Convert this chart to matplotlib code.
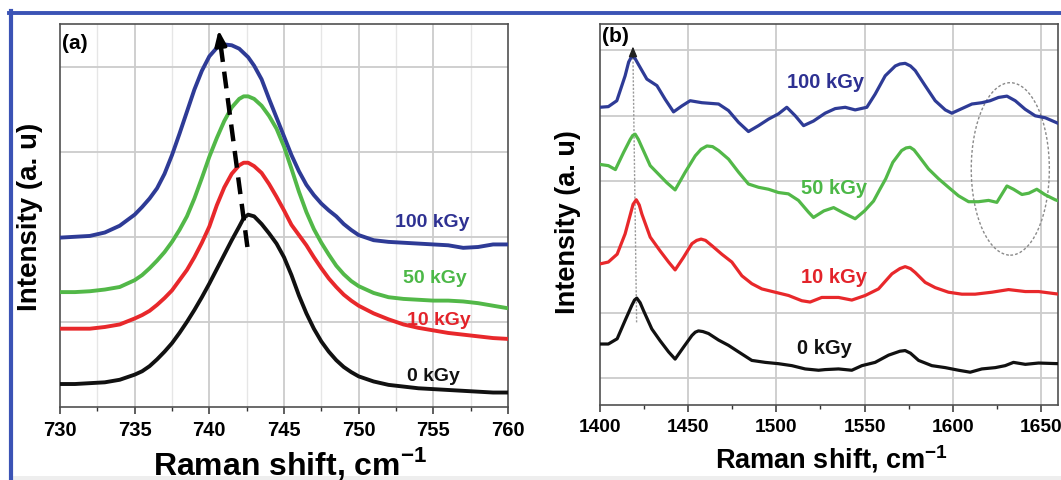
import matplotlib
matplotlib.use("Agg")
import matplotlib.pyplot as plt
from matplotlib.patches import Ellipse, Rectangle
from matplotlib.lines import Line2D

plt.rcParams['font.family'] = ['Liberation Sans', 'DejaVu Sans']
plt.rcParams['font.weight'] = 'bold'
plt.rcParams['mathtext.fontset'] = 'custom'
plt.rcParams['mathtext.rm'] = 'Liberation Sans'
plt.rcParams['mathtext.bf'] = 'Liberation Sans:bold'

# ---------------- data: panel (a) ----------------
a_x = [730, 731, 732, 733, 734, 735, 735.5, 736, 736.5, 737, 737.5, 738, 738.5, 739, 739.5,
       740, 740.5, 741, 741.5, 742, 742.3, 742.6, 743, 743.5, 744, 744.5, 745, 745.5, 746,
       746.5, 747, 747.5, 748, 748.5, 749, 749.5, 750, 751, 752, 753, 754, 755, 756, 757,
       758, 759, 760]
a_y_0 = [0.27, 0.27, 0.28, 0.29, 0.32, 0.38, 0.42, 0.48, 0.56, 0.65, 0.75, 0.87, 1.00, 1.14, 1.29,
         1.45, 1.62, 1.79, 1.96, 2.12, 2.22, 2.26, 2.24, 2.15, 2.04, 1.92, 1.76, 1.55, 1.31,
         1.10, 0.92, 0.77, 0.65, 0.55, 0.47, 0.41, 0.36, 0.30, 0.26, 0.24, 0.22, 0.21, 0.20, 0.19,
         0.18, 0.17, 0.17]
a_y_10 = [0.92, 0.92, 0.92, 0.94, 0.97, 1.04, 1.08, 1.13, 1.20, 1.28, 1.37, 1.49, 1.61, 1.76, 1.93,
          2.12, 2.37, 2.58, 2.74, 2.84, 2.87, 2.87, 2.83, 2.75, 2.62, 2.47, 2.31, 2.14, 2.02,
          1.90, 1.76, 1.63, 1.51, 1.41, 1.32, 1.25, 1.19, 1.10, 1.03, 0.97, 0.93, 0.90, 0.87, 0.85,
          0.83, 0.81, 0.80]
a_y_50 = [1.35, 1.35, 1.36, 1.38, 1.41, 1.49, 1.55, 1.63, 1.72, 1.82, 1.94, 2.08, 2.24, 2.45, 2.69,
          2.94, 3.16, 3.36, 3.52, 3.62, 3.65, 3.65, 3.62, 3.54, 3.42, 3.27, 3.06, 2.80, 2.53,
          2.29, 2.09, 1.93, 1.79, 1.66, 1.56, 1.48, 1.42, 1.34, 1.29, 1.27, 1.26, 1.25, 1.25, 1.24,
          1.22, 1.19, 1.16]
a_y_100 = [1.99, 2.00, 2.01, 2.05, 2.13, 2.26, 2.35, 2.45, 2.57, 2.74, 2.96, 3.21, 3.47, 3.73, 3.95,
           4.12, 4.22, 4.26, 4.25, 4.21, 4.16, 4.11, 4.01, 3.85, 3.62, 3.40, 3.18, 2.96, 2.77,
           2.61, 2.49, 2.39, 2.31, 2.24, 2.15, 2.08, 2.02, 1.96, 1.94, 1.93, 1.92, 1.91, 1.90, 1.87,
           1.88, 1.91, 1.91]

# ---------------- data: panel (b) ----------------
b_x_0 = [1400, 1405, 1410, 1414.5, 1418.3, 1419.8, 1421.1, 1423.0, 1424.9, 1429.6, 1434.3, 1439.1,
         1442.8, 1447.5, 1452.3, 1454.2, 1456.0, 1458.5, 1461.7, 1467.4, 1473.0, 1478.7, 1486.2,
         1493.8, 1501.3, 1508.9, 1516.4, 1524.0, 1527.7, 1535.3, 1542.8, 1548.5, 1556.0, 1563.6,
         1570.0, 1573.0, 1576.0, 1580.6, 1588.1, 1595.7, 1603.2, 1609.8, 1616.4, 1624.0, 1629.6,
         1634.3, 1641.0, 1648.5, 1660]
b_y_0 = [0.52, 0.52, 0.60, 0.88, 1.11, 1.19, 1.22, 1.15, 1.03, 0.75, 0.57, 0.40,
         0.29, 0.47, 0.65, 0.70, 0.72, 0.71, 0.68, 0.58, 0.50, 0.40, 0.27,
         0.24, 0.22, 0.19, 0.14, 0.12, 0.13, 0.14, 0.12, 0.19, 0.24, 0.35,
         0.41, 0.42, 0.38, 0.27, 0.19, 0.16, 0.12, 0.09, 0.14, 0.16, 0.19,
         0.24, 0.21, 0.23, 0.22]

b_x_10 = [1400, 1405, 1410, 1414.5, 1417.0, 1419.0, 1420.8, 1422.5, 1424.0, 1428.7, 1434.3, 1439.1,
          1442.8, 1447.5, 1452.3, 1455.0, 1457.5, 1460.0, 1463.6, 1469.2, 1474.9, 1480.6, 1486.2,
          1491.9, 1499.4, 1507.0, 1514.5, 1519.2, 1525.8, 1535.3, 1542.8, 1550.4, 1557.9, 1565.5,
          1570.0, 1573.0, 1576.0, 1578.7, 1584.3, 1590.0, 1597.5, 1605.1, 1612.6, 1622.1, 1631.5,
          1641.0, 1648.5, 1660]
b_y_10 = [1.74, 1.77, 1.89, 2.20, 2.45, 2.65, 2.72, 2.64, 2.50, 2.15, 1.94, 1.77,
          1.65, 1.84, 2.05, 2.10, 2.12, 2.10, 2.02, 1.89, 1.77, 1.56, 1.44,
          1.36, 1.31, 1.26, 1.18, 1.16, 1.23, 1.23, 1.19, 1.26, 1.36, 1.59,
          1.67, 1.70, 1.67, 1.61, 1.46, 1.38, 1.31, 1.28, 1.28, 1.31, 1.35,
          1.32, 1.32, 1.28]

b_x_50 = [1400, 1405, 1409, 1413.6, 1417.4, 1418.8, 1420.2, 1422.0, 1424.0, 1428.7, 1433.4, 1438.1,
          1442.8, 1448.5, 1454.2, 1457.5, 1460.8, 1464.0, 1467.4, 1473.0, 1478.7, 1484.3, 1490.0,
          1495.7, 1501.3, 1506.9, 1512.6, 1518.3, 1521.1, 1527.0, 1532.5, 1538.0, 1544.7, 1550.0,
          1555.1, 1558.5, 1562.0, 1566.0, 1571.0, 1573.5, 1575.8, 1578.0, 1580.6, 1586.2, 1591.9,
          1597.5, 1603.2, 1608.9, 1614.5, 1620.2, 1624.9, 1630.6, 1634.3, 1639.1, 1643.0, 1647.5,
          1652.0, 1657.9, 1660]
b_y_50 = [3.26, 3.24, 3.18, 3.44, 3.64, 3.70, 3.72, 3.64, 3.52, 3.24, 3.11, 2.98,
          2.87, 3.14, 3.39, 3.49, 3.54, 3.53, 3.47, 3.34, 3.14, 2.96, 2.91,
          2.88, 2.83, 2.81, 2.71, 2.53, 2.45, 2.55, 2.60, 2.52, 2.43, 2.55,
          2.70, 2.87, 3.04, 3.29, 3.47, 3.51, 3.52, 3.48, 3.39, 3.19, 3.04,
          2.91, 2.78, 2.69, 2.69, 2.71, 2.68, 2.93, 2.88, 2.80, 2.82, 2.88,
          2.80, 2.72, 2.70]

b_x_100 = [1400, 1405, 1409.8, 1414.5, 1416.5, 1418.3, 1420.0, 1422.1, 1426.8, 1432.5, 1437.2,
           1441.9, 1446.6, 1451.3, 1457.9, 1467.4, 1473.0, 1478.7, 1484.3, 1490.0, 1495.7, 1501.3,
           1506.0, 1510.8, 1515.5, 1521.1, 1527.7, 1533.4, 1539.1, 1544.7, 1551.3, 1556.0, 1561.7,
           1567.4, 1570.0, 1573.0, 1576.0, 1578.7, 1584.3, 1590.0, 1595.7, 1599.4, 1605.1, 1610.8,
           1616.4, 1621.1, 1625.8, 1630.6, 1635.3, 1640.9, 1646.6, 1652.3, 1660]
b_y_100 = [4.13, 4.14, 4.23, 4.61, 4.82, 4.91, 4.88, 4.78, 4.56, 4.46, 4.25,
           4.06, 4.15, 4.23, 4.20, 4.18, 4.08, 3.90, 3.76, 3.85, 3.95, 4.03,
           4.13, 4.00, 3.85, 3.92, 4.04, 4.11, 4.13, 4.09, 4.13, 4.33, 4.61,
           4.76, 4.79, 4.80, 4.76, 4.69, 4.46, 4.23, 4.09, 4.04, 4.11, 4.18,
           4.20, 4.23, 4.28, 4.30, 4.23, 4.10, 4.00, 3.97, 3.88]

labels = ['0 kGy', '10 kGy', '50 kGy', '100 kGy']
colors = ['#111111', '#e8282b', '#52b848', '#2e3b96']
text_colors = ['#111111', '#e3232a', '#4cb847', '#2e3192']

a_xticks = [730, 735, 740, 745, 750, 755, 760]
a_minor = [732.5, 737.5, 742.5, 747.5, 752.5, 757.5]
b_xticks = [1400, 1450, 1500, 1550, 1600, 1650]
b_minor = [1425, 1475, 1525, 1575, 1625]

a_label_pos = [(755.0, 0.37), (755.4, 1.03), (755.1, 1.52), (754.9, 2.18)]
b_label_pos = [(1527.2, 0.46), (1532.5, 1.55), (1532.5, 2.91), (1527.7, 4.52)]

arrow_a = [(742.55, 1.88), (740.6, 4.46)]
guide_b = [(1421.0, 0.85), (1418.9, 5.10)]

# ---------------- figure ----------------
fig = plt.figure(figsize=(10.61, 4.81), dpi=100)
fig.patch.set_facecolor('white')

ax1 = fig.add_axes([60/1061, 1-408/481, 448/1061, 383/481])
ax2 = fig.add_axes([599.5/1061, 1-406/481, 458.5/1061, 381/481])

grid_c = '#cccccc'
for ax in (ax1, ax2):
    for s in ax.spines.values():
        s.set_color('#505050')
        s.set_linewidth(1.2)
    ax.set_yticks([])
    ax.tick_params(axis='x', which='major', direction='out', length=5, width=1.1,
                   pad=4, color='#333333')
    ax.tick_params(axis='x', which='minor', direction='out', length=3, width=1.0, color='#333333')

# panel (a)
ys_a = [a_y_0, a_y_10, a_y_50, a_y_100]
ax1.set_xlim(730, 760)
ax1.set_ylim(0, 4.5)
ax1.set_xticks(a_xticks)
ax1.set_xticks(a_minor, minor=True)
for v in a_xticks[1:-1]:
    ax1.axvline(v, color=grid_c, lw=1.3, zorder=0)
for v in a_minor:
    ax1.axvline(v, color='#e6e6e6', lw=1.0, zorder=0)
for v in [1, 2, 3, 4]:
    ax1.axhline(v, color=grid_c, lw=1.3, zorder=0)
for y, c in zip(ys_a, colors):
    ax1.plot(a_x, y, color=c, lw=2.8, solid_capstyle='round', solid_joinstyle='round', zorder=3)
for (tx, ty), lab, c in zip(a_label_pos, labels, text_colors):
    ax1.text(tx, ty, lab, color=c, fontsize=14, fontweight='bold', ha='center', va='center', zorder=4)
(x0, y0), (x1, y1) = arrow_a
ax1.plot([x0, x1 + 0.06*(x0-x1)], [y0, y1 + 0.06*(y0-y1)], color='black', lw=3.2,
         dashes=(3.8, 2.2), zorder=5)
ax1.annotate('', xy=(x1, y1), xytext=(x1 + 0.08*(x0-x1), y1 + 0.08*(y0-y1)),
             arrowprops=dict(arrowstyle='-|>,head_length=0.9,head_width=0.35', color='black',
                             lw=2.5), zorder=6)
ax1.text(0.0335, 0.953, '(a)', transform=ax1.transAxes, fontsize=15, fontweight='bold',
         ha='center', va='center')
ax1.set_xticklabels([str(v) for v in a_xticks], fontweight='bold', fontsize=14.5)
ax1.set_xlabel(r'Raman shift, cm$^{\mathbf{-1}}$', fontsize=23, fontweight='bold', va='baseline')
ax1.xaxis.set_label_coords(0.513, -0.175)
ax1.set_ylabel('Intensity (a. u)', fontsize=20, fontweight='bold', va='center', ha='center')
ax1.yaxis.set_label_coords(-0.067, 0.5)

# panel (b)
xs_b = [b_x_0, b_x_10, b_x_50, b_x_100]
ys_b = [b_y_0, b_y_10, b_y_50, b_y_100]
ax2.set_xlim(1400, 1659.5)
ax2.set_ylim(-0.41, 5.40)
ax2.set_xticks(b_xticks)
ax2.set_xticks(b_minor, minor=True)
for v in b_xticks[1:]:
    ax2.axvline(v, color=grid_c, lw=1.3, zorder=0)
for v in [0, 1, 2, 3, 4, 5]:
    ax2.axhline(v, color=grid_c, lw=1.3, zorder=0)
for x, y, c in zip(xs_b, ys_b, colors):
    ax2.plot(x, y, color=c, lw=2.3, solid_capstyle='round', solid_joinstyle='round', zorder=3)
for (tx, ty), lab, c in zip(b_label_pos, labels, text_colors):
    ax2.text(tx, ty, lab, color=c, fontsize=14.5, fontweight='bold', ha='center', va='center', zorder=4)
(gx0, gy0), (gx1, gy1) = guide_b
ax2.plot([gx0, gx1], [gy0, gy1 - 0.1], color='#999999', lw=1.0, ls=(0, (1.5, 1.2)), zorder=2)
ax2.annotate('', xy=(gx1, gy1), xytext=(gx1 + 0.03*(gx0-gx1), gy1 - 0.25),
             arrowprops=dict(arrowstyle='-|>,head_length=0.6,head_width=0.25', color='#222222',
                             lw=1.0), zorder=6)
ax2.add_patch(Ellipse((1632.5, 3.19), width=44.2, height=2.63, fill=False,
                      edgecolor='#8a8a8a', lw=1.0, ls=(0, (2.0, 1.5)), zorder=2))
ax2.text(0.034, 0.969, '(b)', transform=ax2.transAxes, fontsize=15, fontweight='bold',
         ha='center', va='center')
ax2.set_xticklabels([str(v) for v in b_xticks], fontweight='bold', fontsize=13.8)
ax2.set_xlabel(r'Raman shift, cm$^{\mathbf{-1}}$', fontsize=19.5, fontweight='bold', va='baseline')
ax2.xaxis.set_label_coords(0.506, -0.163)
ax2.set_ylabel('Intensity (a. u)', fontsize=19.5, fontweight='bold', va='center', ha='center')
ax2.yaxis.set_label_coords(-0.069, 0.484)

# blue frame lines and bottom strip
border_c = '#3b53b5'
fig.add_artist(Line2D([9/1061, 1.0], [1-13.5/481, 1-13.5/481], transform=fig.transFigure,
                      color=border_c, lw=2.8))
fig.add_artist(Line2D([10.5/1061, 10.5/1061], [0, 1-12/481], transform=fig.transFigure,
                      color=border_c, lw=3.0))
fig.add_artist(Rectangle((12/1061, 0), 1, 4/481, transform=fig.transFigure,
                         facecolor='#eeeeee', edgecolor='none', zorder=-1))

fig.savefig('out.png', dpi=100)
